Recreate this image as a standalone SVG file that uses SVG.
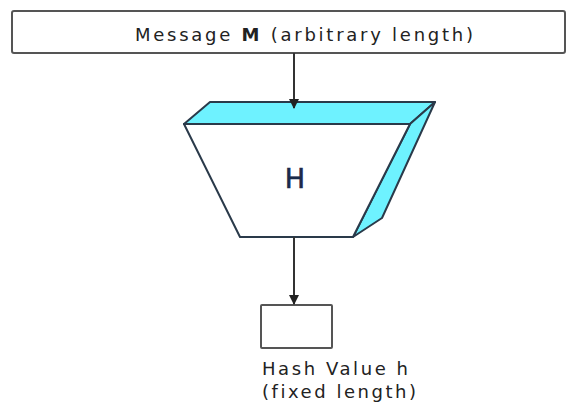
<svg xmlns="http://www.w3.org/2000/svg" width="569" height="405" viewBox="0 0 569 405">
<defs>
<style>
.box{fill:#fff;stroke:#555;stroke-width:2}
.edge{stroke:#333;stroke-width:2;fill:none}
.lbl{font-family:"DejaVu Sans","Liberation Sans",sans-serif;fill:#222;font-size:18px;font-variant-ligatures:none}
.cyan{fill:#6ef2ff;stroke:#2a3a4a;stroke-width:2;stroke-linejoin:round}
.front{fill:#fff;stroke:#2a3a4a;stroke-width:2;stroke-linejoin:round}
</style>
<marker id="ah" viewBox="0 0 10 10" refX="9" refY="5" markerWidth="5" markerHeight="5" orient="auto">
<path d="M0,0 L10,5 L0,10 z" fill="#222"/>
</marker>
</defs>
<rect width="569" height="405" fill="#fff"/>
<g id="message">
<rect class="box" x="12" y="11" width="553" height="42" rx="2"/>
<text class="lbl" x="304" y="41" text-anchor="middle" textLength="338" lengthAdjust="spacing">Message <tspan font-weight="bold">M</tspan> (arbitrary length)</text>
</g>
<g id="hash-function">
<polygon class="cyan" points="184,124 210,102 435,102 410,124"/>
<polygon class="cyan" points="410,124 435,102 382,218 353,237"/>
<polygon class="front" points="184,124 410,124 353,237 240,237"/>
<text x="295" y="188" text-anchor="middle" font-family="DejaVu Sans, sans-serif" font-size="27" font-weight="500" fill="#1a2a4a" stroke="#1a2a4a" stroke-width="0.6">H</text>
</g>
<g id="hash-value">
<rect class="box" x="261" y="305" width="71" height="43" rx="1"/>
<text class="lbl" x="262" y="375" textLength="146" lengthAdjust="spacing">Hash Value h</text>
<text class="lbl" x="262" y="398" textLength="154" lengthAdjust="spacing">(fixed length)</text>
</g>
<g id="connectors">
<line class="edge" x1="294" y1="53" x2="294" y2="108" marker-end="url(#ah)"/>
<line class="edge" x1="294" y1="237" x2="294" y2="304" marker-end="url(#ah)"/>
</g>
</svg>
